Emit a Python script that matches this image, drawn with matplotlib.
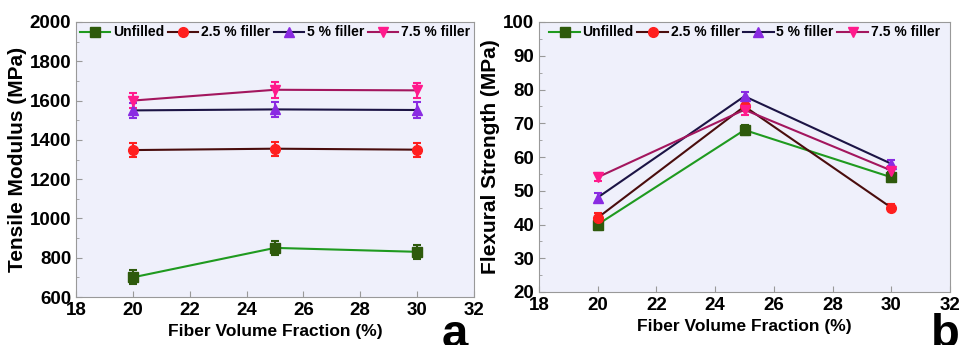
import matplotlib.pyplot as plt
from matplotlib.lines import Line2D
from matplotlib.ticker import MultipleLocator

plt.rcParams["font.family"] = ["Liberation Sans", "DejaVu Sans"]
plt.rcParams["font.weight"] = "bold"

fiber = [20, 25, 30]
labels = ["Unfilled", "2.5 % filler", "5 % filler", "7.5 % filler"]

tensile = [
    [700, 850, 830],
    [1348, 1355, 1350],
    [1550, 1555, 1552],
    [1600, 1655, 1652],
]
tensile_err = [
    [35, 35, 35],
    [35, 35, 35],
    [40, 40, 40],
    [40, 40, 40],
]
flexural = [
    [40, 68, 54],
    [42, 75, 45],
    [48, 78, 58],
    [54, 74, 56],
]
flexural_err = [
    [1.5, 1.5, 1.5],
    [1.5, 1.5, 1.0],
    [1.2, 1.2, 1.2],
    [1.2, 1.5, 1.2],
]

line_colors = ["#1f9a1f", "#4a0d0d", "#1c1445", "#a3165e"]
marker_colors = ["#2e5a0c", "#ff1f1f", "#8a2be2", "#ff1a8c"]
markers = ["s", "o", "^", "v"]
bg = "#eff0fb"
spine = "#999999"


def draw(ax, values, errs, ylim, ystep, ylabel):
    handles = []
    for vals, err, lc, mc, m, lab in zip(values, errs, line_colors, marker_colors, markers, labels):
        ax.errorbar(fiber, vals, yerr=err, color=lc, marker=m, markersize=7,
                    markerfacecolor=mc, markeredgecolor=mc, ecolor=mc,
                    elinewidth=1.5, capsize=3, capthick=1.5, linewidth=1.5)
        handles.append(Line2D([], [], color=lc, marker=m, markersize=7, linewidth=1.5,
                              markerfacecolor=mc, markeredgecolor=mc, label=lab))
    ax.set_facecolor(bg)
    ax.set_xlim(18, 32)
    ax.set_ylim(*ylim)
    ax.xaxis.set_major_locator(MultipleLocator(2))
    ax.yaxis.set_major_locator(MultipleLocator(ystep))
    ax.yaxis.set_minor_locator(MultipleLocator(ystep / 2))
    ax.tick_params(direction="in", colors=spine, labelcolor="black", labelsize=13.5, length=4)
    ax.tick_params(which="minor", direction="in", colors=spine, length=2)
    for s in ax.spines.values():
        s.set_color(spine)
    ax.set_xlabel("Fiber Volume Fraction (%)", fontsize=12.5, fontweight="bold", labelpad=4)
    ax.set_ylabel(ylabel, fontsize=15, fontweight="bold", labelpad=2)
    ax.legend(handles=handles, loc="upper center", ncol=4, frameon=False, fontsize=10,
              handlelength=2.2, handletextpad=0.2, columnspacing=0.25,
              borderaxespad=0.15, borderpad=0.1, bbox_to_anchor=(0.5, 1.0))


fig = plt.figure(figsize=(9.6, 3.45), dpi=100)
ax1 = fig.add_axes([76 / 960, 1 - 297 / 345, 398 / 960, 275 / 345])
ax2 = fig.add_axes([539 / 960, 1 - 292 / 345, 411 / 960, 270 / 345])

draw(ax1, tensile, tensile_err, (600, 2000), 200, "Tensile Modulus (MPa)")
draw(ax2, flexural, flexural_err, (20, 100), 10, "Flexural Strength (MPa)")

fig.text(455 / 960, -0.035, "a", fontsize=34, fontweight="bold", ha="center", va="bottom")
fig.text(945 / 960, -0.035, "b", fontsize=34, fontweight="bold", ha="center", va="bottom")

fig.savefig("out.png", dpi=100)
